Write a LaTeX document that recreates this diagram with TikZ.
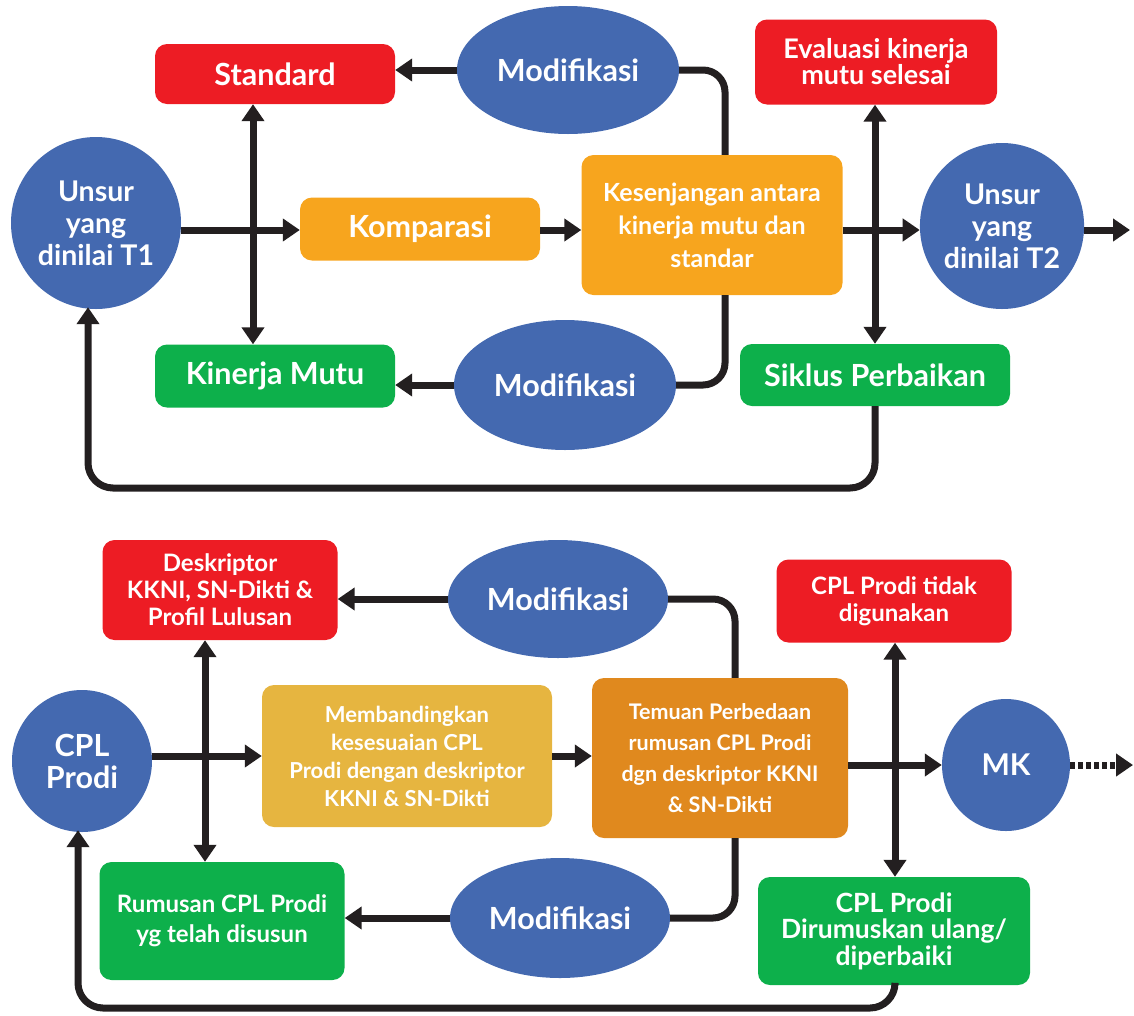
\documentclass[tikz,border=0pt]{standalone}
\usepackage{fontspec}
\setmainfont{Lato}
\usetikzlibrary{shapes.geometric,arrows.meta,calc}
\definecolor{cblue}{HTML}{4469B0}
\definecolor{cred}{HTML}{ED1C24}
\definecolor{corange}{HTML}{F7A51E}
\definecolor{cgreen}{HTML}{0DB04B}
\definecolor{cmustard}{HTML}{E6B540}
\definecolor{cdark}{HTML}{E0891E}
\definecolor{cline}{HTML}{231F20}
\newcommand{\fs}[2]{\fontsize{#1}{#2}\selectfont\bfseries}
\begin{document}
\begin{tikzpicture}[x=1pt,y=-1pt,
  box/.style={rectangle,rounded corners=12pt,draw=none,text=white,align=center,inner sep=0pt},
  oval/.style={ellipse,fill=cblue,draw=none,text=white,align=center,inner sep=0pt},
  big/.style={font=\fs{30.5}{33}},
  line/.style={draw=cline,line width=7pt},
  arr/.style={line,-{Triangle[length=17pt,width=22pt]}},
  dbl/.style={line,{Triangle[length=17pt,width=22pt]}-{Triangle[length=17pt,width=22pt]}},
]
\useasboundingbox (0,0) rectangle (1134,1015);

% ---------- upper cycle ----------
\node[box,fill=cred,big,minimum width=240pt,minimum height=60pt] (std) at (275,74) {Standard};
\node[oval,big,minimum width=222pt,minimum height=128pt] (mod1) at (568,70) {Modifikasi};
\node[box,fill=cred,minimum width=242pt,minimum height=85pt,font=\fs{27}{26}] (eva) at (876,62) {Evaluasi kinerja\\mutu selesai};
\node[oval,minimum width=170pt,minimum height=172pt,font=\fs{28.5}{32}] (t1) at (96,223) {Unsur\\yang\\dinilai T1};
\node[box,fill=corange,big,minimum width=240pt,minimum height=63pt] (kom) at (420,229) {Komparasi};
\node[box,fill=corange,minimum width=261pt,minimum height=140pt,font=\fs{25}{33}] (kes) at (712,225) {Kesenjangan antara\\kinerja mutu dan\\standar};
\node[oval,minimum width=164pt,minimum height=166pt,font=\fs{28.5}{32}] (t2) at (1002,226) {Unsur\\yang\\dinilai T2};
\node[box,fill=cgreen,big,minimum width=240pt,minimum height=63pt] (kin) at (275,376) {Kinerja Mutu};
\node[oval,big,minimum width=222pt,minimum height=130pt] (mod2) at (565,385) {Modifikasi};
\node[box,fill=cgreen,big,minimum width=270pt,minimum height=62pt] (sik) at (875,375) {Siklus Perbaikan};

\coordinate (va) at (253,0);
\coordinate (vb) at (725,0);
\coordinate (vc) at (875,0);
\coordinate (ha) at (0,230);
\coordinate (fa) at (88,488);
\coordinate (out1) at (1130,230);

\draw[arr] (mod1.west) -- (mod1.west -| std.east);
\draw[line,rounded corners=22pt] (mod1.east) -| (kes.north -| vb);
\draw[line,rounded corners=22pt] (mod2.east) -| (kes.south -| vb);
\draw[arr] (mod2.west) -- (mod2.west -| kin.east);
\draw[arr] (t1.east |- ha) -- (kom.west |- ha);
\draw[dbl] (std.south -| va) -- (kin.north -| va);
\draw[arr] (kom.east |- ha) -- (kes.west |- ha);
\draw[arr] (kes.east |- ha) -- (t2.west |- ha);
\draw[dbl] (eva.south -| vc) -- (sik.north -| vc);
\draw[arr] (t2.east |- ha) -- (out1);
\draw[arr,rounded corners=25pt] (sik.south) |- (fa) -- ($(fa |- t1.south)+(0,-2)$);

% ---------- lower cycle ----------
\node[box,fill=cred,minimum width=235pt,minimum height=100pt,font=\fs{24}{27}] (des) at (220,590) {Deskriptor\\KKNI, SN-Dikti \&\\Profil Lulusan};
\node[oval,big,minimum width=220pt,minimum height=118pt] (mod3) at (558,599) {Modifikasi};
\node[box,fill=cred,minimum width=235pt,minimum height=83pt,font=\fs{24}{27}] (tdk) at (894,601) {CPL Prodi tidak\\digunakan};
\node[oval,minimum width=140pt,minimum height=142pt,font=\fs{30.5}{32}] (cpl) at (82,761) {CPL\\Prodi};
\node[box,fill=cmustard,minimum width=290pt,minimum height=142pt,font=\fs{22}{28}] (ban) at (407,756) {Membandingkan\\kesesuaian CPL\\Prodi dengan deskriptor\\KKNI \& SN-Dikti};
\node[box,fill=cdark,minimum width=256pt,minimum height=160pt,font=\fs{21.5}{31}] (tem) at (720,758) {Temuan Perbedaan\\rumusan CPL Prodi\\dgn deskriptor KKNI\\\& SN-Dikti};
\node[oval,minimum width=128pt,minimum height=132pt,font=\fs{30}{32}] (mk) at (1006,765) {MK};
\node[box,fill=cgreen,minimum width=245pt,minimum height=118pt,font=\fs{24}{30}] (rum) at (222,921) {Rumusan CPL Prodi\\yg telah disusun};
\node[oval,big,minimum width=220pt,minimum height=120pt] (mod4) at (560,918) {Modifikasi};
\node[box,fill=cgreen,minimum width=272pt,minimum height=108pt,font=\fs{26.5}{26.5}] (rul) at (894,931) {CPL Prodi\\Dirumuskan ulang/\\diperbaiki};

\coordinate (vd) at (205,0);
\coordinate (ve) at (735,0);
\coordinate (vf) at (895,0);
\coordinate (fb) at (78,1008);
\coordinate (out2) at (1133,765);

\draw[arr] (mod3.west) -- (mod3.west -| des.east);
\draw[line,rounded corners=22pt] (mod3.east) -| (tem.north -| ve);
\draw[line,rounded corners=22pt] (mod4.east) -| (tem.south -| ve);
\draw[arr] (mod4.west) -- (mod4.west -| rum.east);
\draw[arr] (cpl.east |- ban.west) -- (ban.west);
\draw[dbl] (des.south -| vd) -- (rum.north -| vd);
\draw[arr] (ban.east) -- (ban.east -| tem.west);
\draw[arr] (tem.east |- mk.west) -- (mk.west);
\draw[dbl] (tdk.south -| vf) -- (rul.north -| vf);
\draw[line,dash pattern=on 5pt off 3pt,-{Triangle[length=17pt,width=22pt]}] (mk.east) -- (out2);
\draw[arr,rounded corners=25pt] (rul.south -| vf) |- (fb) -- ($(fb |- cpl.south)+(0,-2)$);
\end{tikzpicture}
\end{document}
